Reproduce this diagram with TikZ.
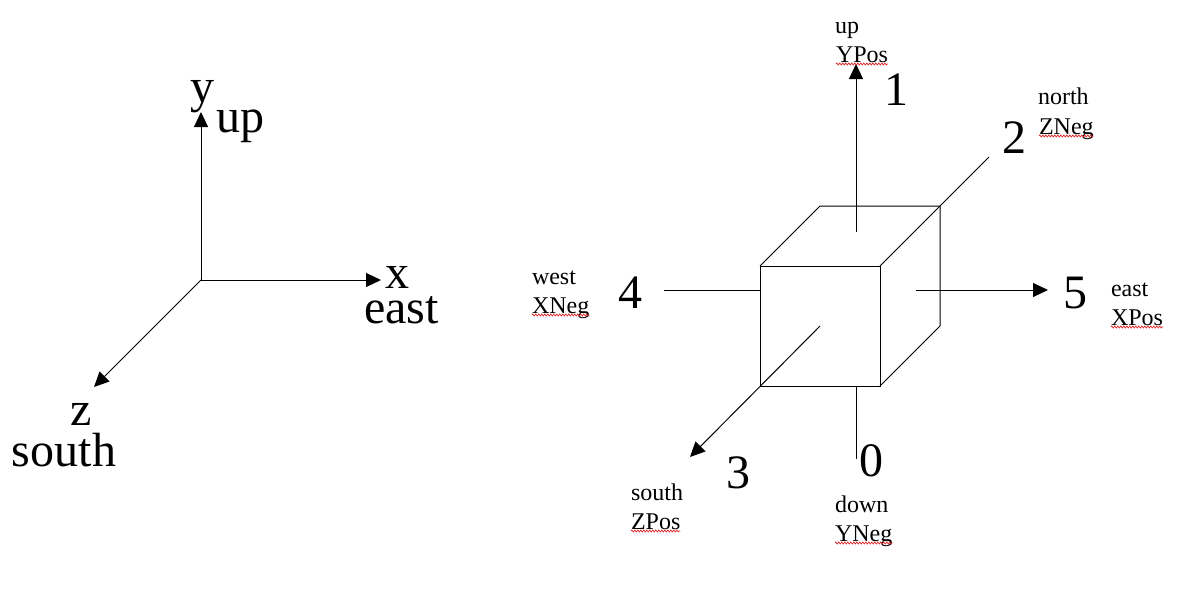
\documentclass[tikz,border=0pt]{standalone}
\usepackage{fontspec}
\setmainfont{Liberation Serif}
\usetikzlibrary{arrows.meta,decorations.pathmorphing}
\definecolor{squig}{RGB}{220,40,40}
\tikzset{
  x=1pt,y=-1pt,
  small/.style={anchor=base west,inner sep=0pt,outer sep=0pt,font=\fontsize{24}{24}\selectfont},
  big/.style={anchor=base west,inner sep=0pt,outer sep=0pt,font=\fontsize{48}{48}\selectfont},
  line/.style={black,line width=1pt},
  arrow/.style={line,-{Triangle[length=15pt,width=14pt]}},
  squiggle/.style={squig,line width=0.7pt,decorate,decoration={zigzag,amplitude=1pt,segment length=3pt}}
}
\begin{document}
\begin{tikzpicture}
\useasboundingbox (0,0) rectangle (1200,600);
% left axes
\coordinate (o) at (201,280);
\coordinate (ly) at (201,112);
\coordinate (lx) at (381,280);
\coordinate (lz) at (94,387);
\draw[arrow] (o) -- (ly);
\draw[arrow] (o) -- (lx);
\draw[arrow] (o) -- (lz);
\node[big] (ty) at (190,102) {y};
\node[big] (tup) at (216,132) {up};
\node[big] (tx) at (385,288) {x};
\node[big] (teast) at (364,323) {east};
\node[big] (tz) at (70,425) {z};
\node[big] (tsouth) at (12,466) {south};
% cube
\coordinate (fa) at (760,266);
\coordinate (fb) at (880,266);
\coordinate (fc) at (880,386);
\coordinate (fd) at (760,386);
\coordinate (ba) at (820,206);
\coordinate (bb) at (940,206);
\coordinate (bc) at (940,326);
\draw[line] (fa) -- (fb) -- (fc) -- (fd) -- cycle;
\draw[line] (fa) -- (ba) -- (bb) -- (bc) -- (fc);
\draw[line] (fb) -- (bb);
% axes of the cube
\coordinate (us) at (856,232);
\coordinate (ue) at (856,64);
\coordinate (ne) at (989,157);
\coordinate (ws) at (664,290);
\coordinate (we) at (760,290);
\coordinate (es) at (916,290);
\coordinate (ee) at (1048,290);
\coordinate (ss) at (820,326);
\coordinate (se) at (690,457);
\coordinate (ds) at (856,386);
\coordinate (de) at (856,459);
\draw[arrow] (us) -- (ue);
\draw[line] (bb) -- (ne);
\draw[line] (ws) -- (we);
\draw[arrow] (es) -- (ee);
\draw[arrow] (ss) -- (se);
\draw[line] (ds) -- (de);
% digits
\node[big] (n1) at (884,105) {1};
\node[big] (n2) at (1002,153) {2};
\node[big] (n4) at (618,308) {4};
\node[big] (n3) at (726,488) {3};
\node[big] (n0) at (859,476) {0};
\node[big] (n5) at (1063,308) {5};
% small labels
\node[small] (lup) at (835,33) {up};
\node[small] (lypos) at (836,62) {YPos};
\node[small] (lnorth) at (1038,104) {north};
\node[small] (lzneg) at (1039,134) {ZNeg};
\node[small] (lwest) at (532,284) {west};
\node[small] (lxneg) at (532,313) {XNeg};
\node[small] (least) at (1111,296) {east};
\node[small] (lxpos) at (1111,325) {XPos};
\node[small] (lsouth) at (631,500) {south};
\node[small] (lzpos) at (631,529) {ZPos};
\node[small] (ldown) at (835,512) {down};
\node[small] (lyneg) at (835,541) {YNeg};
% spelling squiggles
\foreach \t in {lypos,lzneg,lxneg,lxpos,lzpos,lyneg}
  \draw[squiggle] ([yshift=-2pt]\t.base west) -- ([yshift=-2pt]\t.base east);
\end{tikzpicture}
\end{document}
